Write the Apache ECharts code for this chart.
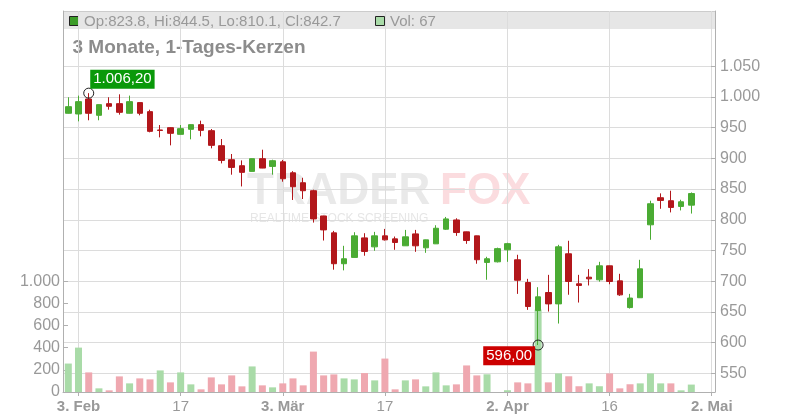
<!DOCTYPE html>
<html><head><meta charset="utf-8">
<script src="https://cdn.jsdelivr.net/npm/echarts@6/dist/echarts.min.js"></script>
<style>html,body{margin:0;padding:0;background:#fff}#c{width:800px;height:420px}</style>
</head><body><div id="c"></div>
<script>
// ---- data ----
const dates = [
 '2025-01-31',
 '2025-02-03','2025-02-04','2025-02-05','2025-02-06','2025-02-07',
 '2025-02-10','2025-02-11','2025-02-12','2025-02-13','2025-02-14',
 '2025-02-17','2025-02-18','2025-02-19','2025-02-20','2025-02-21',
 '2025-02-24','2025-02-25','2025-02-26','2025-02-27','2025-02-28',
 '2025-03-03','2025-03-04','2025-03-05','2025-03-06','2025-03-07',
 '2025-03-10','2025-03-11','2025-03-12','2025-03-13','2025-03-14',
 '2025-03-17','2025-03-18','2025-03-19','2025-03-20','2025-03-21',
 '2025-03-24','2025-03-25','2025-03-26','2025-03-27','2025-03-28',
 '2025-03-31','2025-04-01','2025-04-02','2025-04-03','2025-04-04',
 '2025-04-07','2025-04-08','2025-04-09','2025-04-10','2025-04-11',
 '2025-04-14','2025-04-15','2025-04-16','2025-04-17',
 '2025-04-22','2025-04-23','2025-04-24','2025-04-25',
 '2025-04-28','2025-04-29','2025-04-30',
 '2025-05-01','2025-05-02'
];
const open = [973.4,972.3,996.7,970.1,989.1,989.1,973.4,990.8,976.1,946.2,
 950.0,939.1,947.3,954.9,945.1,920.6,897.8,888.0,878.8,899.5,
 886.9,894.4,876.5,860.3,847.3,806.2,778.7,728.4,738.7,770.5,
 755.9,773.8,768.9,757.6,777.0,754.3,760.8,784.6,799.7,780.3,
 773.8,730.5,731.5,751.1,734.8,697.8,652.2,681.5,663.0,744.6,
 695.7,706.5,702.2,725.0,700.5,657.0,673.0,791.8,835.9,831.0,
 821.7,823.8];
const close = [984.2,992.4,973.4,987.5,984.8,975.0,992.4,973.4,944.0,945.5,
 940.8,948.4,954.9,945.6,921.2,896.7,885.3,877.2,899.5,884.2,
 896.2,866.8,853.8,847.3,801.4,783.5,728.4,736.5,773.8,748.4,
 773.8,767.3,763.0,772.2,757.6,767.3,786.2,801.4,779.2,766.2,
 734.9,736.5,753.0,761.1,701.5,658.7,674.5,663.0,756.0,699.5,
 693.0,703.8,725.0,699.5,677.7,672.5,720.1,826.1,831.5,820.1,
 829.3,842.7];
const low = [973.0,960.3,962.0,962.0,979.3,971.2,973.0,970.1,942.4,934.2,
 921.2,938.8,931.0,935.9,916.3,891.8,873.4,854.3,878.5,884.0,
 873.4,862.0,832.2,833.8,795.4,766.2,718.7,717.6,738.5,741.4,
 749.5,766.2,751.1,757.3,747.8,746.2,760.5,783.5,773.8,760.8,
 728.4,702.3,730.5,731.5,679.3,653.3,596.0,650.5,631.0,677.9,
 665.2,693.0,699.2,695.0,676.1,655.4,672.8,767.4,817.9,812.0,
 815.2,810.1];
const high = [999.5,1002.2,1006.2,987.8,999.5,1004.3,1002.2,991.0,979.3,954.3,
 950.5,954.3,955.2,961.4,947.8,931.5,907.1,896.7,899.8,914.1,
 897.8,897.5,879.2,868.4,849.0,806.5,781.9,757.6,779.7,778.1,
 780.3,785.1,772.7,783.5,783.5,767.6,791.1,804.6,802.4,780.6,
 774.1,739.7,754.6,762.5,743.0,703.8,690.2,710.3,759.2,765.8,
 710.3,719.6,731.5,725.3,712.0,679.3,734.8,831.0,843.0,847.3,
 832.6,844.5];
const volume = [257,401,177,33,15,141,78,123,114,195,
 87,177,69,24,132,69,150,51,231,60,
 42,78,123,60,365,150,159,123,114,171,
 105,302,24,105,114,51,177,60,69,240,
 150,160,0,16,87,78,745,87,168,142,
 52,78,52,168,33,70,78,168,78,78,
 15,67];
const tickDates = ['2025-02-03','2025-02-17','2025-03-03','2025-03-17','2025-04-02','2025-04-16','2025-05-02'];
const tickLabels = ['3. Feb','17','3. Mär','17','2. Apr','16','2. Mai'];
const volTicks = [0,200,400,600,800,1000];
const priceTicks = [550,600,650,700,750,800,850,900,950,1000,1050];
const titleText = '3 Monate, 1-Tages-Kerzen';
const watermarkMain = 'TRADER', watermarkAccent = 'FOX', watermarkSub = 'REALTIME STOCK SCREENING';

// ---- helpers ----
const thousands = v => String(Math.round(v)).replace(/\B(?=(\d{3})+(?!\d))/g, '.');
const fmtDE = (v, d) => { const [a, b] = v.toFixed(d).split('.'); return thousands(+a) + ',' + b; };
const tickIdx = tickDates.map(d => dates.indexOf(d));
const n = open.length;
const candleData = open.map((o, i) => [i, o, close[i], low[i], high[i]]);
const GREEN = '#4aab33', RED = '#b2171b';
const volData = volume.map((v, i) => {
  const up = i === 0 ? close[i] >= open[i] : close[i] >= close[i - 1];
  return { value: [i, v], itemStyle: { color: up ? '#a9dba8' : '#efa8b0' } };
});
let hiIdx = 0, loIdx = 0;
high.forEach((h, i) => { if (h > high[hiIdx]) hiIdx = i; });
low.forEach((l, i) => { if (l < low[loIdx]) loIdx = i; });

const FONT = '"Liberation Sans", Arial, sans-serif';
const labelGray = '#999999';
const axisGray = '#b0b0b0';
const gridGray = '#dcdcdc';

const chart = echarts.init(document.getElementById('c'), null, { renderer: 'canvas' });
const option = {
  animation: false,
  backgroundColor: '#ffffff',
  textStyle: { fontFamily: FONT },
  grid: { left: 63, right: 85, top: 11, bottom: 28, containLabel: false, outerBoundsMode: 'none' },
  xAxis: {
    type: 'value', min: -0.519, max: 63.32,
    axisLine: { show: true, onZero: false, lineStyle: { color: axisGray } },
    axisTick: { show: true, customValues: tickIdx, length: 4, lineStyle: { color: axisGray } },
    axisLabel: {
      customValues: tickIdx, margin: 7, color: labelGray, fontSize: 15, fontFamily: FONT,
      formatter: v => {
        const k = tickIdx.indexOf(Math.round(v));
        if (k < 0) return '';
        const t = tickLabels[k];
        return /\D/.test(t) ? '{b|' + t + '}' : '{n|' + t + '}';
      },
      rich: {
        b: { fontWeight: 'bold', fontSize: 15, color: labelGray, fontFamily: FONT },
        n: { fontSize: 15, color: labelGray, fontFamily: FONT }
      }
    },
    splitLine: { show: true, lineStyle: { color: gridGray, width: 1 } }
  },
  yAxis: [
    {
      type: 'value', position: 'left', min: 0, max: 3442,
      axisLine: { show: true, onZero: false, lineStyle: { color: axisGray } },
      axisTick: { show: true, inside: true, length: 5, customValues: volTicks, lineStyle: { color: axisGray } },
      axisLabel: { customValues: volTicks, margin: 3, color: labelGray, fontSize: 16, fontFamily: FONT, formatter: v => thousands(v) },
      splitLine: { show: false }
    },
    {
      type: 'value', position: 'right', min: 519.5, max: 1140,
      axisLine: { show: true, onZero: false, lineStyle: { color: axisGray } },
      axisTick: { show: true, inside: true, length: 4, customValues: priceTicks, lineStyle: { color: axisGray } },
      axisLabel: { customValues: priceTicks, margin: 5, color: labelGray, fontSize: 16, fontFamily: FONT, formatter: v => thousands(v) },
      splitLine: { show: true, lineStyle: { color: gridGray, width: 1 } }
    }
  ],
  graphic: [
    { type: 'rect', z: -5, silent: true, shape: { x: 63, y: 11, width: 652, height: 18 }, style: { fill: '#e6e6e6' } },
    { type: 'line', z: -4, silent: true, shape: { x1: 63, y1: 11.5, x2: 715, y2: 11.5 }, style: { stroke: '#cccccc', lineWidth: 1 } },
    { type: 'rect', z: -3, silent: true, shape: { x: 69.5, y: 16.5, width: 9, height: 9 }, style: { fill: '#3c9c28', stroke: '#222', lineWidth: 1 } },
    { type: 'text', z: -3, silent: true, x: 84, y: 21.5, style: { text: 'Op:' + open[n-1] + ', Hi:' + high[n-1] + ', Lo:' + low[n-1] + ', Cl:' + close[n-1], font: '15px ' + FONT, fill: labelGray, verticalAlign: 'middle', align: 'left' } },
    { type: 'rect', z: -3, silent: true, shape: { x: 375.5, y: 16.5, width: 9, height: 9 }, style: { fill: '#a9dba8', stroke: '#222', lineWidth: 1 } },
    { type: 'text', z: -3, silent: true, x: 390, y: 21.5, style: { text: 'Vol: ' + volume[n-1], font: '15px ' + FONT, fill: labelGray, verticalAlign: 'middle', align: 'left' } },
    { type: 'text', z: -3, silent: true, x: 72.5, y: 47.5, style: { text: titleText, font: 'bold 19px ' + FONT, fill: '#8c8c8c', verticalAlign: 'middle', align: 'left' } },
    { type: 'text', z: -6, silent: true, x: 247, y: 192, style: { text: watermarkMain, font: 'bold 44px ' + FONT, fill: '#e9e9e9', verticalAlign: 'middle', align: 'left' } },
    { type: 'text', z: -6, silent: true, x: 440, y: 192, style: { text: watermarkAccent, font: 'bold 44px ' + FONT, fill: '#fbdcdf', verticalAlign: 'middle', align: 'left' } },
    { type: 'text', z: -6, silent: true, x: 250, y: 219, style: { text: watermarkSub, font: '12px ' + FONT, fill: '#e6e6e6', verticalAlign: 'middle', align: 'left' } }
  ],
  series: [
    {
      type: 'bar', name: 'Vol', xAxisIndex: 0, yAxisIndex: 0, z: 1,
      barWidth: 7, data: volData, silent: true
    },
    {
      type: 'candlestick', name: 'Kurs', xAxisIndex: 0, yAxisIndex: 1, z: 3,
      barWidth: 6, data: candleData, encode: { x: 0, y: [1, 2, 3, 4] }, silent: true,
      itemStyle: { color: GREEN, color0: RED, borderColor: GREEN, borderColor0: RED, borderWidth: 1 },
      markPoint: {
        silent: true, symbol: 'circle', symbolSize: 10, animation: false,
        itemStyle: { color: 'rgba(255,255,255,0)', borderColor: '#222222', borderWidth: 1 },
        data: [
          { coord: [hiIdx, high[hiIdx]], value: high[hiIdx],
            label: { show: true, formatter: fmtDE(high[hiIdx], 2), position: [7, -18], align: 'left', verticalAlign: 'top',
              backgroundColor: '#0a990a', color: '#ffffff', fontSize: 15, lineHeight: 15, padding: [2, 3], fontFamily: FONT } },
          { coord: [loIdx, low[loIdx]], value: low[loIdx],
            label: { show: true, formatter: fmtDE(low[loIdx], 2), position: [2.5, 6.7], align: 'right', verticalAlign: 'top',
              backgroundColor: '#cc0000', color: '#ffffff', fontSize: 15, lineHeight: 15, padding: [2, 3], fontFamily: FONT } }
        ]
      }
    }
  ]
};
chart.setOption(option);
</script></body></html>
